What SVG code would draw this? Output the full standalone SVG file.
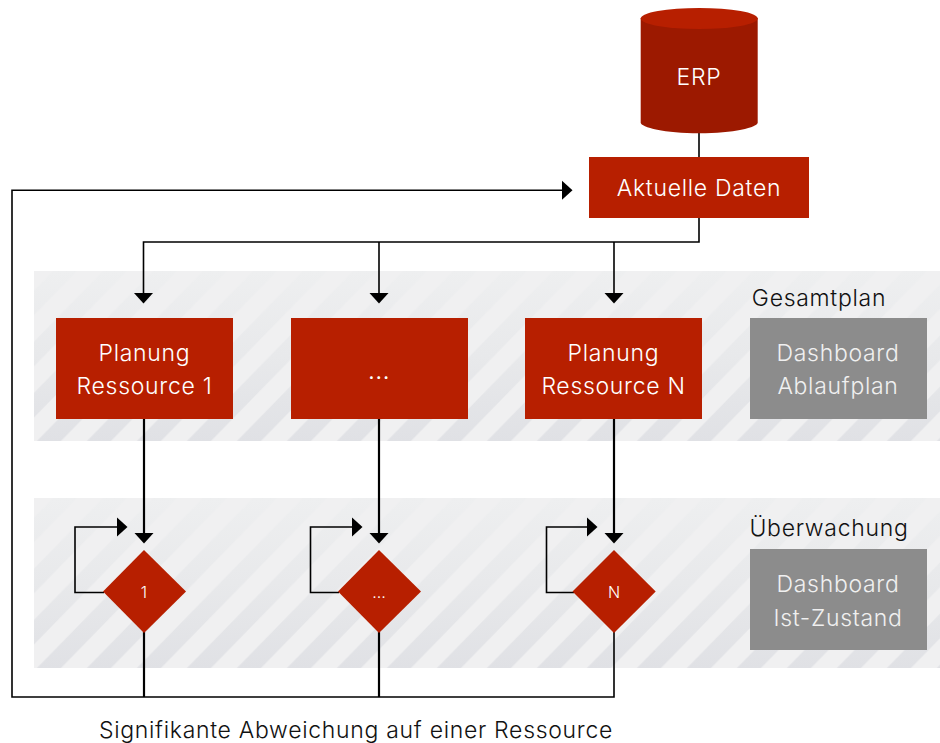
<svg xmlns="http://www.w3.org/2000/svg" width="940" height="743" viewBox="0 0 940 743">
<style>
text{font-family:"Inter","Liberation Sans",sans-serif;text-anchor:middle;font-weight:300}
.t{font-size:23px;letter-spacing:.7px;fill:#fff}
.s{font-size:16px;fill:#fff}
.l{font-size:23px;letter-spacing:.7px;fill:#111}
.r{fill:#b71f00}
.g{fill:#8c8c8c}
.c{fill:none;stroke:#000;stroke-width:1.6}
.k{fill:none;stroke:#000;stroke-width:2.2}
.gt{font-size:23px;letter-spacing:.7px;fill:#f0f0f0}
</style>
<defs>
<pattern id="st" patternUnits="userSpaceOnUse" width="50" height="50" patternTransform="scale(1 1.024)">
<rect width="50" height="50" fill="#000"/>
<path d="M0 19L19 0H43L0 43ZM50 19V43L43 50H19Z" fill="#fff"/>
</pattern>
<linearGradient id="gr" x1="0" y1="0" x2="0" y2="1"><stop offset="0" stop-color="#eeeff0"/><stop offset=".5" stop-color="#e8e9eb"/><stop offset="1" stop-color="#e0e1e5"/></linearGradient>
<mask id="m" maskUnits="userSpaceOnUse" x="0" y="0" width="906" height="170"><rect width="906" height="170" fill="url(#st)"/></mask>
<marker id="a" markerUnits="userSpaceOnUse" markerWidth="20" markerHeight="20" refX="0" refY="10" orient="auto" viewBox="0 0 20 20"><path d="M0 0.500L10.500 10L0 19.500Z" fill="#000"/></marker>
</defs>
<g id="bands">
<g transform="translate(34 271)"><rect width="906" height="170" fill="#f0f0f1"/><rect width="906" height="170" fill="url(#gr)" mask="url(#m)"/></g>
<g transform="translate(34 498)"><rect width="906" height="170" fill="#f0f0f1"/><rect width="906" height="170" fill="url(#gr)" mask="url(#m)"/></g>
</g>
<g id="connectors">
<path class="c" d="M699 130V157"/>
<path class="c" d="M699 218V242H143.500V293" marker-end="url(#a)"/>
<path class="c" d="M379 242V293" marker-end="url(#a)"/>
<path class="c" d="M614 242V293" marker-end="url(#a)"/>
<path class="k" d="M144 419V533" marker-end="url(#a)"/>
<path class="k" d="M379 419V533" marker-end="url(#a)"/>
<path class="k" d="M614 419V533" marker-end="url(#a)"/>
<path class="c" d="M104 592.500H75V527H117" marker-end="url(#a)"/>
<path class="c" d="M339 592.500H310.500V527H352" marker-end="url(#a)"/>
<path class="c" d="M574 592.500H546.500V527H587" marker-end="url(#a)"/>
<path class="k" d="M144 632V697"/>
<path class="k" d="M379 632V697"/>
<path class="c" d="M614 632V697H12V190.300H562" marker-end="url(#a)"/>
</g>
<g id="erp">
<path d="M640.700 18V122.500C640.700 127.500 665 133.300 699.200 133.300S757.700 127.500 757.700 122.500V18Z" fill="#9c1900"/>
<ellipse cx="699.200" cy="18.500" rx="58.500" ry="10.500" class="r"/>
<text class="t" x="699" y="85">ERP</text>
</g>
<g id="aktuelle"><rect class="r" x="589" y="157" width="220" height="61"/><text class="t" x="699" y="196">Aktuelle Daten</text></g>
<g id="plan1"><rect class="r" x="56" y="318" width="177" height="101"/><text class="t" x="144.500" y="361">Planung</text><text class="t" x="144.500" y="394">Ressource 1</text></g>
<g id="plan2"><rect class="r" x="291" y="318" width="177" height="101"/><text class="t" x="379" y="379" font-size="26" style="font-size:26px">…</text></g>
<g id="plan3"><rect class="r" x="525" y="318" width="177" height="101"/><text class="t" x="613.500" y="361">Planung</text><text class="t" x="613.500" y="394">Ressource N</text></g>
<g id="dash1"><text class="l" x="819" y="306">Gesamtplan</text><rect class="g" x="750" y="318" width="177" height="101"/><text class="gt" x="838" y="361">Dashboard</text><text class="gt" x="838" y="394">Ablaufplan</text></g>
<g id="dash2"><text class="l" x="829" y="536">Überwachung</text><rect class="g" x="750" y="549" width="177" height="101"/><text class="gt" x="838" y="592">Dashboard</text><text class="gt" x="838" y="626">Ist-Zustand</text></g>
<g id="d1"><path class="r" d="M144 550L186 591.500L144 633L103 591.500Z"/><text class="s" x="144" y="598">1</text></g>
<g id="d2"><path class="r" d="M379 550L421 591.500L379 633L338 591.500Z"/><text class="s" x="379" y="598">…</text></g>
<g id="d3"><path class="r" d="M614 550L655.700 591.500L614 633L572.500 591.500Z"/><text class="s" x="614" y="598">N</text></g>
<text class="l" x="356" y="738">Signifikante Abweichung auf einer Ressource</text>
</svg>
